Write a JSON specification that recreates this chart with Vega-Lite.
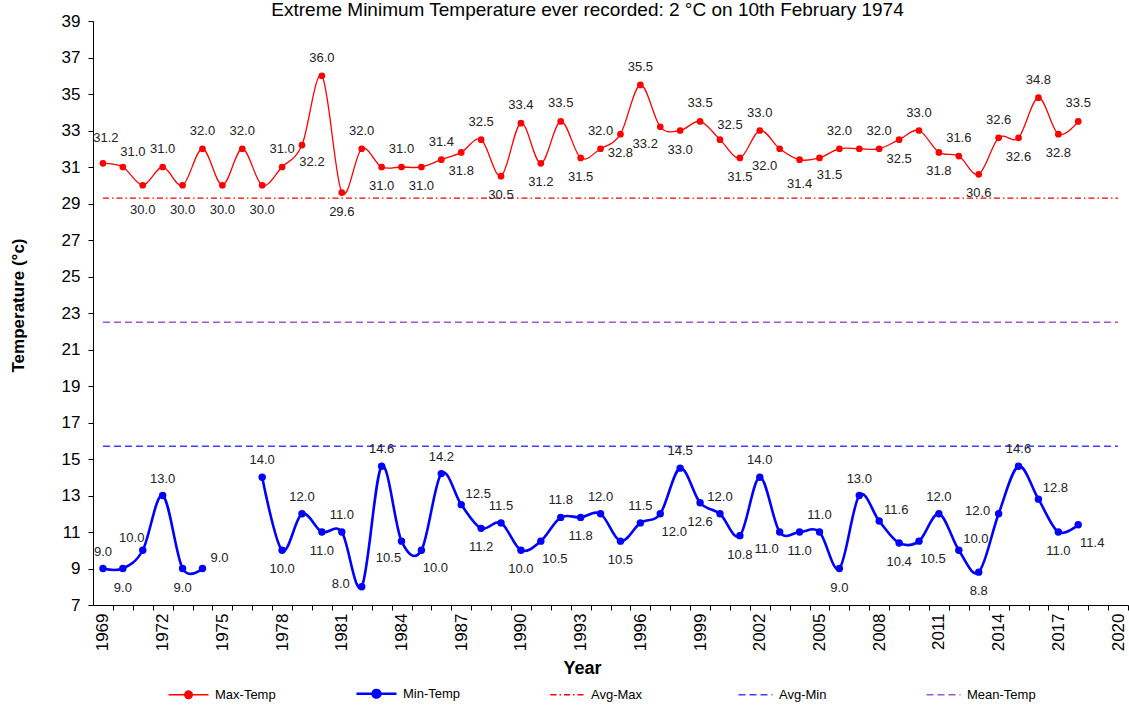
{
  "$schema": "https://vega.github.io/schema/vega-lite/v6.json",
  "width": 1035,
  "height": 584,
  "autosize": "none",
  "padding": {"left": 93, "top": 21, "right": 1, "bottom": 102},
  "background": "white",
  "config": {"view": {"stroke": null}, "font": "Liberation Sans"},
  "title": {"text": "Extreme Minimum Temperature ever recorded: 2 °C on 10th  February 1974", "fontSize": 19, "fontWeight": "normal", "font": "Liberation Sans", "color": "black", "anchor": "middle", "dx": -23, "offset": -8},
  "datasets": {
    "temps": [
      {"year": 1969, "series": "Max-Temp", "temp": 31.2}, {"year": 1970, "series": "Max-Temp", "temp": 31.0},
      {"year": 1971, "series": "Max-Temp", "temp": 30.0}, {"year": 1972, "series": "Max-Temp", "temp": 31.0},
      {"year": 1973, "series": "Max-Temp", "temp": 30.0}, {"year": 1974, "series": "Max-Temp", "temp": 32.0},
      {"year": 1975, "series": "Max-Temp", "temp": 30.0}, {"year": 1976, "series": "Max-Temp", "temp": 32.0},
      {"year": 1977, "series": "Max-Temp", "temp": 30.0}, {"year": 1978, "series": "Max-Temp", "temp": 31.0},
      {"year": 1979, "series": "Max-Temp", "temp": 32.2}, {"year": 1980, "series": "Max-Temp", "temp": 36.0},
      {"year": 1981, "series": "Max-Temp", "temp": 29.6}, {"year": 1982, "series": "Max-Temp", "temp": 32.0},
      {"year": 1983, "series": "Max-Temp", "temp": 31.0}, {"year": 1984, "series": "Max-Temp", "temp": 31.0},
      {"year": 1985, "series": "Max-Temp", "temp": 31.0}, {"year": 1986, "series": "Max-Temp", "temp": 31.4},
      {"year": 1987, "series": "Max-Temp", "temp": 31.8}, {"year": 1988, "series": "Max-Temp", "temp": 32.5},
      {"year": 1989, "series": "Max-Temp", "temp": 30.5}, {"year": 1990, "series": "Max-Temp", "temp": 33.4},
      {"year": 1991, "series": "Max-Temp", "temp": 31.2}, {"year": 1992, "series": "Max-Temp", "temp": 33.5},
      {"year": 1993, "series": "Max-Temp", "temp": 31.5}, {"year": 1994, "series": "Max-Temp", "temp": 32.0},
      {"year": 1995, "series": "Max-Temp", "temp": 32.8}, {"year": 1996, "series": "Max-Temp", "temp": 35.5},
      {"year": 1997, "series": "Max-Temp", "temp": 33.2}, {"year": 1998, "series": "Max-Temp", "temp": 33.0},
      {"year": 1999, "series": "Max-Temp", "temp": 33.5}, {"year": 2000, "series": "Max-Temp", "temp": 32.5},
      {"year": 2001, "series": "Max-Temp", "temp": 31.5}, {"year": 2002, "series": "Max-Temp", "temp": 33.0},
      {"year": 2003, "series": "Max-Temp", "temp": 32.0}, {"year": 2004, "series": "Max-Temp", "temp": 31.4},
      {"year": 2005, "series": "Max-Temp", "temp": 31.5}, {"year": 2006, "series": "Max-Temp", "temp": 32.0},
      {"year": 2007, "series": "Max-Temp", "temp": 32.0}, {"year": 2008, "series": "Max-Temp", "temp": 32.0},
      {"year": 2009, "series": "Max-Temp", "temp": 32.5}, {"year": 2010, "series": "Max-Temp", "temp": 33.0},
      {"year": 2011, "series": "Max-Temp", "temp": 31.8}, {"year": 2012, "series": "Max-Temp", "temp": 31.6},
      {"year": 2013, "series": "Max-Temp", "temp": 30.6}, {"year": 2014, "series": "Max-Temp", "temp": 32.6},
      {"year": 2015, "series": "Max-Temp", "temp": 32.6}, {"year": 2016, "series": "Max-Temp", "temp": 34.8},
      {"year": 2017, "series": "Max-Temp", "temp": 32.8}, {"year": 2018, "series": "Max-Temp", "temp": 33.5},
      {"year": 1969, "series": "Min-Temp", "temp": 9.0}, {"year": 1970, "series": "Min-Temp", "temp": 9.0},
      {"year": 1971, "series": "Min-Temp", "temp": 10.0}, {"year": 1972, "series": "Min-Temp", "temp": 13.0},
      {"year": 1973, "series": "Min-Temp", "temp": 9.0}, {"year": 1974, "series": "Min-Temp", "temp": 9.0},
      {"year": 1975, "series": "Min-Temp", "temp": null}, {"year": 1976, "series": "Min-Temp", "temp": null},
      {"year": 1977, "series": "Min-Temp", "temp": 14.0}, {"year": 1978, "series": "Min-Temp", "temp": 10.0},
      {"year": 1979, "series": "Min-Temp", "temp": 12.0}, {"year": 1980, "series": "Min-Temp", "temp": 11.0},
      {"year": 1981, "series": "Min-Temp", "temp": 11.0}, {"year": 1982, "series": "Min-Temp", "temp": 8.0},
      {"year": 1983, "series": "Min-Temp", "temp": 14.6}, {"year": 1984, "series": "Min-Temp", "temp": 10.5},
      {"year": 1985, "series": "Min-Temp", "temp": 10.0}, {"year": 1986, "series": "Min-Temp", "temp": 14.2},
      {"year": 1987, "series": "Min-Temp", "temp": 12.5}, {"year": 1988, "series": "Min-Temp", "temp": 11.2},
      {"year": 1989, "series": "Min-Temp", "temp": 11.5}, {"year": 1990, "series": "Min-Temp", "temp": 10.0},
      {"year": 1991, "series": "Min-Temp", "temp": 10.5}, {"year": 1992, "series": "Min-Temp", "temp": 11.8},
      {"year": 1993, "series": "Min-Temp", "temp": 11.8}, {"year": 1994, "series": "Min-Temp", "temp": 12.0},
      {"year": 1995, "series": "Min-Temp", "temp": 10.5}, {"year": 1996, "series": "Min-Temp", "temp": 11.5},
      {"year": 1997, "series": "Min-Temp", "temp": 12.0}, {"year": 1998, "series": "Min-Temp", "temp": 14.5},
      {"year": 1999, "series": "Min-Temp", "temp": 12.6}, {"year": 2000, "series": "Min-Temp", "temp": 12.0},
      {"year": 2001, "series": "Min-Temp", "temp": 10.8}, {"year": 2002, "series": "Min-Temp", "temp": 14.0},
      {"year": 2003, "series": "Min-Temp", "temp": 11.0}, {"year": 2004, "series": "Min-Temp", "temp": 11.0},
      {"year": 2005, "series": "Min-Temp", "temp": 11.0}, {"year": 2006, "series": "Min-Temp", "temp": 9.0},
      {"year": 2007, "series": "Min-Temp", "temp": 13.0}, {"year": 2008, "series": "Min-Temp", "temp": 11.6},
      {"year": 2009, "series": "Min-Temp", "temp": 10.4}, {"year": 2010, "series": "Min-Temp", "temp": 10.5},
      {"year": 2011, "series": "Min-Temp", "temp": 12.0}, {"year": 2012, "series": "Min-Temp", "temp": 10.0},
      {"year": 2013, "series": "Min-Temp", "temp": 8.8}, {"year": 2014, "series": "Min-Temp", "temp": 12.0},
      {"year": 2015, "series": "Min-Temp", "temp": 14.6}, {"year": 2016, "series": "Min-Temp", "temp": 12.8},
      {"year": 2017, "series": "Min-Temp", "temp": 11.0}, {"year": 2018, "series": "Min-Temp", "temp": 11.4}
    ],
    "avgs": [
      {"year": 1969, "series": "Avg-Max", "temp": 29.3}, {"year": 2020, "series": "Avg-Max", "temp": 29.3},
      {"year": 1969, "series": "Avg-Min", "temp": 15.7}, {"year": 2020, "series": "Avg-Min", "temp": 15.7},
      {"year": 1969, "series": "Mean-Temp", "temp": 22.5}, {"year": 2020, "series": "Mean-Temp", "temp": 22.5}
    ]
  },
  "data": {"name": "temps"},
  "encoding": {
    "x": {
      "field": "year", "type": "quantitative", "title": "Year",
      "scale": {"domain": [1968.5, 2020.5], "nice": false, "zero": false},
      "axis": {
        "values": [1969,1970,1971,1972,1973,1974,1975,1976,1977,1978,1979,1980,1981,1982,1983,1984,1985,1986,1987,1988,1989,1990,1991,1992,1993,1994,1995,1996,1997,1998,1999,2000,2001,2002,2003,2004,2005,2006,2007,2008,2009,2010,2011,2012,2013,2014,2015,2016,2017,2018,2019,2020],
        "labelExpr": "(datum.value - 1969) % 3 == 0 ? datum.value : ''",
        "labelAngle": -90, "labelAlign": "right", "labelBaseline": "middle",
        "tickOffset": 10, "labelOffset": -10, "tickSize": 5, "tickColor": "black", "domainColor": "black",
        "labelFontSize": 17, "labelColor": "black", "labelPadding": 3, "labelOverlap": false, "labelFlush": false,
        "titleFontSize": 18, "titleFontWeight": "bold", "titleColor": "black", "titlePadding": 9, "titleX": 489, "grid": false
      }
    },
    "y": {
      "field": "temp", "type": "quantitative", "title": "Temperature (°c)",
      "scale": {"domain": [7, 39], "nice": false, "zero": false},
      "axis": {
        "values": [7,9,11,13,15,17,19,21,23,25,27,29,31,33,35,37,39],
        "tickSize": 5, "tickColor": "black", "domainColor": "black",
        "labelFontSize": 17, "labelColor": "black", "labelPadding": 8,
        "titleFontSize": 17, "titleFontWeight": "bold", "titleColor": "black", "titlePadding": 34, "titleY": 284, "grid": false
      }
    }
  },
  "layer": [
    {
      "data": {"name": "avgs"},
      "transform": [{"filter": "datum.series == 'Avg-Max'"}],
      "mark": {"type": "line", "strokeWidth": 1.3, "color": "#FF0000", "strokeDash": [6, 3, 1.5, 3]}
    },
    {
      "data": {"name": "avgs"},
      "transform": [{"filter": "datum.series == 'Mean-Temp'"}],
      "mark": {"type": "line", "strokeWidth": 1.5, "color": "#9B59D0", "strokeDash": [7, 4]}
    },
    {
      "data": {"name": "avgs"},
      "transform": [{"filter": "datum.series == 'Avg-Min'"}],
      "mark": {"type": "line", "strokeWidth": 1.5, "color": "#4040FF", "strokeDash": [7, 4]}
    },
    {
      "transform": [{"filter": "datum.series == 'Max-Temp'"}],
      "mark": {"type": "line", "color": "#FF0000", "strokeWidth": 1.3, "interpolate": "cardinal", "invalid": "break-paths-show-domains"}
    },
    {
      "transform": [{"filter": "datum.series == 'Min-Temp'"}],
      "mark": {"type": "line", "color": "#0000FF", "strokeWidth": 2.6, "interpolate": "cardinal", "invalid": "break-paths-show-domains"}
    },
    {
      "transform": [{"filter": "datum.series == 'Max-Temp'"}],
      "mark": {"type": "point", "shape": "circle", "filled": true, "opacity": 1, "color": "#FF0000", "size": 45}
    },
    {
      "transform": [{"filter": "datum.series == 'Min-Temp' && isValid(datum.temp)"}],
      "mark": {"type": "point", "shape": "circle", "filled": true, "opacity": 1, "color": "#0000FF", "size": 55}
    },
    {
      "transform": [{"filter": "datum.series == 'Max-Temp' && indexof([1972,1974,1976,1978,1980,1982,1984,1986,1988,1990,1992,1994,1996,1999,2002,2006,2008,2010,2012,2014,2016,2018], datum.year) >= 0"}],
      "mark": {"type": "text", "dy": -18, "fontSize": 13, "color": "#222222"},
      "encoding": {"text": {"field": "temp", "type": "quantitative", "format": ".1f"}}
    },
    {
      "transform": [{"filter": "datum.series == 'Max-Temp' && indexof([1969], datum.year) >= 0"}],
      "mark": {"type": "text", "dx": 3, "dy": -25, "fontSize": 13, "color": "#222222"},
      "encoding": {"text": {"field": "temp", "type": "quantitative", "format": ".1f"}}
    },
    {
      "transform": [{"filter": "datum.series == 'Max-Temp' && indexof([1970,2000], datum.year) >= 0"}],
      "mark": {"type": "text", "dx": 10, "dy": -15, "fontSize": 13, "color": "#222222"},
      "encoding": {"text": {"field": "temp", "type": "quantitative", "format": ".1f"}}
    },
    {
      "transform": [{"filter": "datum.series == 'Max-Temp' && indexof([1971,1973,1975,1977], datum.year) >= 0"}],
      "mark": {"type": "text", "dy": 25, "fontSize": 13, "color": "#222222"},
      "encoding": {"text": {"field": "temp", "type": "quantitative", "format": ".1f"}}
    },
    {
      "transform": [{"filter": "datum.series == 'Max-Temp' && indexof([1981,1983,1985,1987,1989,1991,1993,1995,1998,2001,2009,2011,2013,2015,2017], datum.year) >= 0"}],
      "mark": {"type": "text", "dy": 19, "fontSize": 13, "color": "#222222"},
      "encoding": {"text": {"field": "temp", "type": "quantitative", "format": ".1f"}}
    },
    {
      "transform": [{"filter": "datum.series == 'Max-Temp' && indexof([1997,2003], datum.year) >= 0"}],
      "mark": {"type": "text", "dx": -15, "dy": 17, "fontSize": 13, "color": "#222222"},
      "encoding": {"text": {"field": "temp", "type": "quantitative", "format": ".1f"}}
    },
    {
      "transform": [{"filter": "datum.series == 'Max-Temp' && indexof([2004], datum.year) >= 0"}],
      "mark": {"type": "text", "dy": 24, "fontSize": 13, "color": "#222222"},
      "encoding": {"text": {"field": "temp", "type": "quantitative", "format": ".1f"}}
    },
    {
      "transform": [{"filter": "datum.series == 'Max-Temp' && indexof([1979,2005], datum.year) >= 0"}],
      "mark": {"type": "text", "dx": 10, "dy": 17, "fontSize": 13, "color": "#222222"},
      "encoding": {"text": {"field": "temp", "type": "quantitative", "format": ".1f"}}
    },
    {
      "transform": [{"filter": "datum.series == 'Min-Temp' && indexof([1969,1972,1977,1979,1981,1983,1986,1989,1992,1994,1996,1998,2000,2002,2005,2007,2011,2015], datum.year) >= 0"}],
      "mark": {"type": "text", "dy": -17, "fontSize": 13, "color": "#222222"},
      "encoding": {"text": {"field": "temp", "type": "quantitative", "format": ".1f"}}
    },
    {
      "transform": [{"filter": "datum.series == 'Min-Temp' && indexof([1971], datum.year) >= 0"}],
      "mark": {"type": "text", "dx": -11, "dy": -12, "fontSize": 13, "color": "#222222"},
      "encoding": {"text": {"field": "temp", "type": "quantitative", "format": ".1f"}}
    },
    {
      "transform": [{"filter": "datum.series == 'Min-Temp' && indexof([1970,1973,1978,1980,1988,1990,1993,1995,1999,2001,2004,2006,2009,2013,2017], datum.year) >= 0"}],
      "mark": {"type": "text", "dy": 19, "fontSize": 13, "color": "#222222"},
      "encoding": {"text": {"field": "temp", "type": "quantitative", "format": ".1f"}}
    },
    {
      "transform": [{"filter": "datum.series == 'Min-Temp' && indexof([1984,2003], datum.year) >= 0"}],
      "mark": {"type": "text", "dx": -13, "dy": 17, "fontSize": 13, "color": "#222222"},
      "encoding": {"text": {"field": "temp", "type": "quantitative", "format": ".1f"}}
    },
    {
      "transform": [{"filter": "datum.series == 'Min-Temp' && indexof([1985,1991,1997,2010,2018], datum.year) >= 0"}],
      "mark": {"type": "text", "dx": 14, "dy": 18, "fontSize": 13, "color": "#222222"},
      "encoding": {"text": {"field": "temp", "type": "quantitative", "format": ".1f"}}
    },
    {
      "transform": [{"filter": "datum.series == 'Min-Temp' && indexof([1974,1987,2008,2012,2016], datum.year) >= 0"}],
      "mark": {"type": "text", "dx": 17, "dy": -11, "fontSize": 13, "color": "#222222"},
      "encoding": {"text": {"field": "temp", "type": "quantitative", "format": ".1f"}}
    },
    {
      "transform": [{"filter": "datum.series == 'Min-Temp' && indexof([1982,2014], datum.year) >= 0"}],
      "mark": {"type": "text", "dx": -21, "dy": -3, "fontSize": 13, "color": "#222222"},
      "encoding": {"text": {"field": "temp", "type": "quantitative", "format": ".1f"}}
    },
    {
      "data": {"values": [{"series": "Max-Temp"}, {"series": "Min-Temp"}, {"series": "Avg-Max"}, {"series": "Avg-Min"}, {"series": "Mean-Temp"}]},
      "mark": {"type": "point", "filled": true, "opacity": 0},
      "encoding": {
        "x": {"datum": 1969, "type": "quantitative"},
        "y": {"datum": 20, "type": "quantitative"},
        "color": {"field": "series", "type": "nominal",
          "scale": {"domain": ["Max-Temp", "Min-Temp", "Avg-Max", "Avg-Min", "Mean-Temp"], "range": ["#FF0000", "#0000FF", "#FF0000", "#4040FF", "#9B59D0"]},
          "legend": {
            "orient": "none", "legendX": 89, "legendY": 666, "direction": "horizontal", "columns": 5, "gridAlign": "all",
            "columnPadding": 67, "symbolSize": 1600, "labelFontSize": 13, "labelOffset": 20, "labelColor": "black", "title": null, "padding": 0,
            "encode": {"symbols": {"update": {
              "fill": {"scale": "color", "field": "value"},
              "stroke": {"scale": "color", "field": "value"},
              "size": {"value": 1600},
              "shape": {"signal": "(datum.value == 'Max-Temp' || datum.value == 'Min-Temp') ? 'M-1,0L1,0M-0.19,0A0.19,0.19,0,1,0,0.19,0A0.19,0.19,0,1,0,-0.19,0' : 'M-0.7,0L1,0'"},
              "strokeDash": {"signal": "datum.value == 'Avg-Max' ? [6,3,1.5,3] : ((datum.value == 'Max-Temp' || datum.value == 'Min-Temp') ? [1,0] : [7,4])"},
              "strokeWidth": {"signal": "datum.value == 'Min-Temp' ? 2.6 : (datum.value == 'Max-Temp' ? 1.3 : 1.4)"},
              "opacity": {"value": 1}
            }}}
          }}
      }
    }
  ]
}
